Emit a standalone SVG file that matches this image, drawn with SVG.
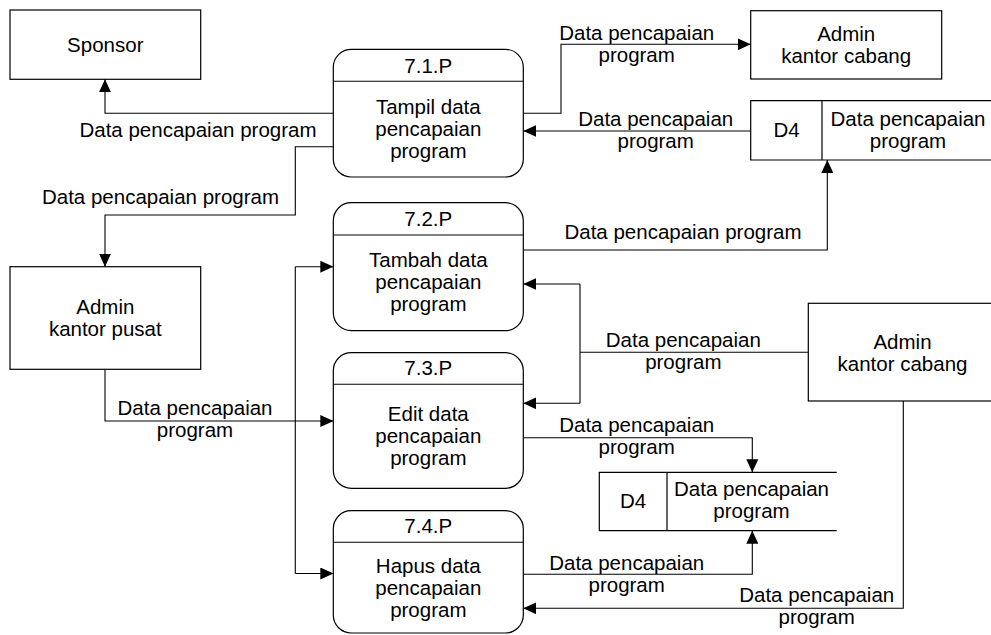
<svg xmlns="http://www.w3.org/2000/svg" width="991" height="635" viewBox="0 0 991 635">
<style>
text{font-family:"Liberation Sans",Arial,sans-serif;font-size:20.5px;fill:#000;text-anchor:middle}
.box{fill:#fff;stroke:#000;stroke-width:1.2}
.ln{fill:none;stroke:#000;stroke-width:1.1}
.arr{fill:none;stroke:#000;stroke-width:1.1;marker-end:url(#ah)}
</style>
<defs>
<marker id="ah" viewBox="0 0 13 12" refX="13" refY="6" markerWidth="13" markerHeight="12" markerUnits="userSpaceOnUse" orient="auto">
<path d="M0,0 L13,6 L0,12 Z" fill="#000"/>
</marker>
</defs>
<rect width="991" height="635" fill="#fff"/>

<g id="connectors">
<path class="arr" d="M333.3,113.3 H105 V79.3"/>
<path class="arr" d="M333.3,146.7 H295.3 V215 H105 V266.7"/>
<path class="arr" d="M523.3,113.3 H561 V44.3 H750.7"/>
<path class="arr" d="M750.7,131 H523.3"/>
<path class="arr" d="M523.3,250 H827.3 V160"/>
<path class="arr" d="M105,369.3 V421 H333.3"/>
<path class="ln" d="M295.3,266.7 V573.5"/>
<path class="arr" d="M295.3,266.7 H333.3"/>
<path class="arr" d="M295.3,573.5 H333.3"/>
<path class="ln" d="M808.3,352.3 H580 M580,284 V403.3"/>
<path class="arr" d="M580,284 H523.3"/>
<path class="arr" d="M580,403.3 H523.3"/>
<path class="arr" d="M523.3,437.7 H752.3 V472.3"/>
<path class="arr" d="M523.3,574.3 H752.3 V530.7"/>
<path class="arr" d="M903.3,401 V608.3 H523.3"/>
<text x="198" y="136.5">Data pencapaian program</text>
<text x="160.5" y="204">Data pencapaian program</text>
<text x="636.7" y="39.5">Data pencapaian</text>
<text x="636.7" y="61.5">program</text>
<text x="655.7" y="126">Data pencapaian</text>
<text x="655.7" y="148">program</text>
<text x="683" y="239">Data pencapaian program</text>
<text x="683.3" y="347">Data pencapaian</text>
<text x="683.3" y="369">program</text>
<text x="195" y="415">Data pencapaian</text>
<text x="195" y="437">program</text>
<text x="636.7" y="432">Data pencapaian</text>
<text x="636.7" y="454">program</text>
<text x="626.7" y="569.5">Data pencapaian</text>
<text x="626.7" y="591.5">program</text>
<text x="816.7" y="602">Data pencapaian</text>
<text x="816.7" y="624">program</text>
</g>

<g id="sponsor">
<rect class="box" x="10" y="10" width="190.7" height="69.3"/>
<text x="105.3" y="52">Sponsor</text>
</g>

<g id="admin-kantor-cabang-1">
<rect class="box" x="750.7" y="10.7" width="191" height="68.3"/>
<text x="846.2" y="40.8">Admin</text>
<text x="846.2" y="63">kantor cabang</text>
</g>

<g id="admin-kantor-pusat">
<rect class="box" x="10" y="266.7" width="190.7" height="102.6"/>
<text x="105.3" y="314">Admin</text>
<text x="105.3" y="336.3">kantor pusat</text>
</g>

<g id="admin-kantor-cabang-2">
<rect class="box" x="808.3" y="303.3" width="190" height="97.7"/>
<text x="902.5" y="348.5">Admin</text>
<text x="902.5" y="370.8">kantor cabang</text>
</g>

<g id="p71">
<rect class="box" x="333.3" y="49.3" width="190" height="127.7" rx="18" ry="18"/>
<line class="ln" x1="333.3" y1="81.3" x2="523.3" y2="81.3"/>
<text x="428.3" y="73">7.1.P</text>
<text x="428.3" y="113.5">Tampil data</text>
<text x="428.3" y="135.5">pencapaian</text>
<text x="428.3" y="157.5">program</text>
</g>

<g id="p72">
<rect class="box" x="333.3" y="202.7" width="190" height="128" rx="18" ry="18"/>
<line class="ln" x1="333.3" y1="235" x2="523.3" y2="235"/>
<text x="428.3" y="225.5">7.2.P</text>
<text x="428.3" y="267">Tambah data</text>
<text x="428.3" y="289">pencapaian</text>
<text x="428.3" y="311">program</text>
</g>

<g id="p73">
<rect class="box" x="333.3" y="352.7" width="190" height="135.6" rx="18" ry="18"/>
<line class="ln" x1="333.3" y1="384.3" x2="523.3" y2="384.3"/>
<text x="428.3" y="375">7.3.P</text>
<text x="428.3" y="420.8">Edit data</text>
<text x="428.3" y="442.8">pencapaian</text>
<text x="428.3" y="464.8">program</text>
</g>

<g id="p74">
<rect class="box" x="333.3" y="510.7" width="190" height="122.3" rx="18" ry="18"/>
<line class="ln" x1="333.3" y1="542.3" x2="523.3" y2="542.3"/>
<text x="428.3" y="533">7.4.P</text>
<text x="428.3" y="572.5">Hapus data</text>
<text x="428.3" y="594.5">pencapaian</text>
<text x="428.3" y="616.5">program</text>
</g>

<g id="d4-top">
<path class="ln" d="M992,100.7 H750.7 V160 H992 M822,100.7 V160" style="stroke-width:1.2"/>
<text x="786.5" y="137">D4</text>
<text x="908" y="126">Data pencapaian</text>
<text x="908" y="147.5">program</text>
</g>

<g id="d4-bottom">
<path class="ln" d="M836.7,472.3 H599.3 V530.7 H836.7 M667,472.3 V530.7" style="stroke-width:1.2"/>
<text x="633" y="508.3">D4</text>
<text x="751.5" y="496">Data pencapaian</text>
<text x="751.5" y="517.5">program</text>
</g>
</svg>
